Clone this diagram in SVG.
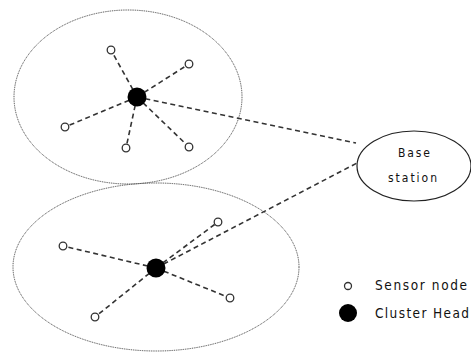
<svg xmlns="http://www.w3.org/2000/svg" width="471" height="352" viewBox="0 0 471 352">
<style>
.cl{fill:none;stroke:#444;stroke-width:1;stroke-dasharray:1 0.8}
.ln{stroke:#333;stroke-width:1.6;stroke-dasharray:5 3.5;fill:none}
.sn{fill:#fff;stroke:#333;stroke-width:1.3}
.ch{fill:#000}
.t{font-family:"DejaVu Sans Condensed","Liberation Sans",sans-serif;fill:#111}
</style>
<rect width="471" height="352" fill="#fff"/>
<g id="cluster1"><ellipse class="cl" cx="128" cy="97" rx="114" ry="87"/></g>
<g id="cluster2"><ellipse class="cl" cx="156" cy="267" rx="143" ry="84"/></g>
<g id="connectors">
<line class="ln" x1="137" y1="97" x2="111" y2="50"/>
<line class="ln" x1="137" y1="97" x2="189" y2="64"/>
<line class="ln" x1="137" y1="97" x2="65" y2="127"/>
<line class="ln" x1="137" y1="97" x2="126" y2="148"/>
<line class="ln" x1="137" y1="97" x2="189" y2="147"/>
<line class="ln" x1="137" y1="97" x2="356" y2="143"/>
<line class="ln" x1="156" y1="268" x2="218" y2="222"/>
<line class="ln" x1="156" y1="268" x2="63" y2="246"/>
<line class="ln" x1="156" y1="268" x2="230" y2="298"/>
<line class="ln" x1="156" y1="268" x2="95" y2="317"/>
<line class="ln" x1="156" y1="268" x2="357" y2="163"/>
</g>
<g id="n1"><circle class="sn" cx="111" cy="50" r="3.8"/></g>
<g id="n2"><circle class="sn" cx="189" cy="64" r="3.8"/></g>
<g id="n3"><circle class="sn" cx="65" cy="127" r="3.8"/></g>
<g id="n4"><circle class="sn" cx="126" cy="148" r="3.8"/></g>
<g id="n5"><circle class="sn" cx="189" cy="147" r="3.8"/></g>
<g id="ch1"><circle class="ch" cx="137" cy="97" r="9.5"/></g>
<g id="n6"><circle class="sn" cx="218" cy="222" r="3.8"/></g>
<g id="n7"><circle class="sn" cx="63" cy="246" r="3.8"/></g>
<g id="n8"><circle class="sn" cx="230" cy="298" r="3.8"/></g>
<g id="n9"><circle class="sn" cx="95" cy="317" r="3.8"/></g>
<g id="ch2"><circle class="ch" cx="156" cy="268" r="9.5"/></g>
<g id="base">
<ellipse cx="414" cy="166" rx="57" ry="35" fill="#fff" stroke="#222" stroke-width="1.2"/>
<text class="t" x="398" y="157" font-size="12" textLength="32" lengthAdjust="spacing">Base</text>
<text class="t" x="388" y="182" font-size="12" textLength="49" lengthAdjust="spacing">station</text>
</g>
<g id="legend">
<circle class="sn" cx="348" cy="286" r="3.5"/>
<text class="t" x="375" y="290" font-size="13.5" textLength="92" lengthAdjust="spacing">Sensor node</text>
<circle class="ch" cx="348" cy="313" r="9"/>
<text class="t" x="375" y="318" font-size="13.5" textLength="94" lengthAdjust="spacing">Cluster Head</text>
</g>
</svg>
